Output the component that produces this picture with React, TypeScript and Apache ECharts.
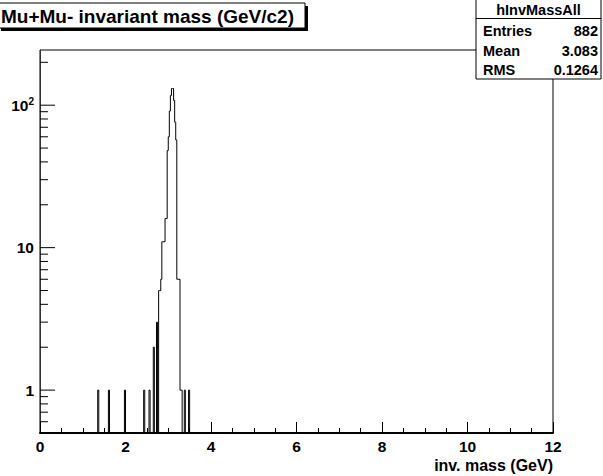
import { useEffect, useRef } from 'react';
import * as echarts from 'echarts';

const TITLE = 'Mu+Mu- invariant mass (GeV/c2)';
const X_TITLE = 'inv. mass (GeV)';
const HIST_NAME = 'hInvMassAll';
const STAT_LABELS = ['Entries', 'Mean', 'RMS'];
const STAT_VALUES = ['882', '3.083', '0.1264'];

const X_MIN = 0;
const X_MAX = 12;
const Y_MIN = 0.5;
const Y_MAX = 244;

const BIN_WIDTH = 0.025;
const BIN_LOW = [
  1.35, 1.6, 1.975, 2.425, 2.55, 2.65, 2.725,
  2.775, 2.8, 2.825, 2.85, 2.875, 2.9, 2.925, 2.95, 2.975, 3.0, 3.025,
  3.05, 3.075, 3.1, 3.125, 3.15, 3.175, 3.2, 3.225, 3.25, 3.275, 3.3,
  3.375, 3.475,
];
const BIN_COUNT = [
  1, 1, 1, 1, 1, 2, 3,
  5, 5, 6, 11, 11, 11, 16, 16, 48, 60, 91,
  117, 131, 131, 108, 76, 57, 6, 6, 6, 1, 1,
  1, 1,
];

const Y_MAJOR_TICKS = [1, 10, 100];
const Y_MINOR_TICKS = [
  0.6, 0.7, 0.8, 0.9,
  2, 3, 4, 5, 6, 7, 8, 9,
  20, 30, 40, 50, 60, 70, 80, 90,
  200,
];

const FONT = "'Liberation Sans', Arial, Helvetica, sans-serif";

export default function App() {
  const ref = useRef<HTMLDivElement>(null);

  useEffect(() => {
    if (!ref.current) return;
    const chart = echarts.init(ref.current, null, { renderer: 'svg' });

    const tickData = [
      ...Y_MAJOR_TICKS.map((v) => [X_MIN, v, 1]),
      ...Y_MINOR_TICKS.map((v) => [X_MIN, v, 0]),
    ];

    const option: any = {
      animation: false,
      backgroundColor: '#ffffff',
      grid: {
        left: 40,
        right: 50,
        top: 50,
        bottom: 43,
        show: true,
        borderColor: '#000',
        borderWidth: 1,
        backgroundColor: 'transparent',
        containLabel: false,
      },
      xAxis: {
        type: 'value',
        min: X_MIN,
        max: X_MAX,
        interval: 2,
        axisLine: { show: true, onZero: false, lineStyle: { color: '#000', width: 2 } },
        axisTick: { show: true, inside: true, length: 11, lineStyle: { color: '#000', width: 1 } },
        minorTick: { show: true, splitNumber: 4, length: 5, lineStyle: { color: '#000', width: 1 } },
        axisLabel: {
          color: '#000',
          fontSize: 15.5,
          fontWeight: 'bold',
          fontFamily: FONT,
          margin: 5,
        },
        splitLine: { show: false },
        minorSplitLine: { show: false },
      },
      yAxis: {
        type: 'log',
        logBase: 10,
        min: Y_MIN,
        max: Y_MAX,
        axisLine: { show: true, lineStyle: { color: '#333', width: 1 } },
        axisTick: { show: false },
        splitLine: { show: false },
        axisLabel: {
          margin: 6,
          color: '#000',
          fontSize: 15.5,
          fontWeight: 'bold',
          fontFamily: FONT,
          formatter: (v: number) => {
            if (Math.abs(v - 1) < 1e-6) return '{b|1}';
            if (Math.abs(v - 10) < 1e-6) return '{b|10}';
            if (Math.abs(v - 100) < 1e-4) return '{b|10}{s|2}';
            return '';
          },
          rich: {
            b: {
              fontSize: 15.5,
              fontWeight: 'bold',
              fontFamily: FONT,
              color: '#000',
              lineHeight: 18,
            },
            s: {
              fontSize: 10,
              fontWeight: 'bold',
              fontFamily: FONT,
              color: '#000',
              lineHeight: 10,
              verticalAlign: 'top',
            },
          },
        },
      },
      series: [
        {
          type: 'custom',
          name: 'yticks',
          coordinateSystem: 'cartesian2d',
          data: tickData,
          silent: true,
          renderItem: (params: any, api: any) => {
            const p = api.coord([api.value(0), api.value(1)]);
            const len = api.value(2) ? 15 : 8;
            return {
              type: 'line',
              shape: { x1: p[0], y1: p[1], x2: p[0] + len, y2: p[1] },
              style: { stroke: '#000', lineWidth: 1 },
            };
          },
        },
        {
          type: 'custom',
          name: HIST_NAME,
          coordinateSystem: 'cartesian2d',
          data: [[3, 1]],
          silent: true,
          renderItem: (params: any, api: any) => {
            if (params.dataIndex !== 0) return null;
            const pts: number[][] = [];
            let prevRight: number | null = null;
            for (let i = 0; i < BIN_LOW.length; i++) {
              const lo = BIN_LOW[i];
              const hi = lo + BIN_WIDTH;
              const c = BIN_COUNT[i];
              if (prevRight === null || Math.abs(prevRight - lo) > 1e-9) {
                if (prevRight !== null) pts.push(api.coord([prevRight, Y_MIN]));
                pts.push(api.coord([lo, Y_MIN]));
              }
              pts.push(api.coord([lo, c]));
              pts.push(api.coord([hi, c]));
              prevRight = hi;
            }
            if (prevRight !== null) pts.push(api.coord([prevRight, Y_MIN]));
            return {
              type: 'polyline',
              shape: { points: pts },
              style: { stroke: '#000', lineWidth: 1, fill: null },
            };
          },
        },
      ],
      graphic: [
        // title box with shadow
        { type: 'rect', shape: { x: 1, y: 6, width: 307, height: 25 }, style: { fill: '#000' }, z: 100 },
        { type: 'rect', shape: { x: -2, y: 3, width: 307, height: 25 }, style: { fill: '#fff', stroke: '#000', lineWidth: 1 }, z: 101 },
        {
          type: 'text', x: 1, y: 16, z: 102,
          style: {
            text: TITLE, fill: '#000', font: `bold 19px ${FONT}`,
            textAlign: 'left', textVerticalAlign: 'middle', verticalAlign: 'middle',
          },
        },
        // stats box
        { type: 'rect', shape: { x: 476, y: -1, width: 125, height: 80 }, style: { fill: '#fff', stroke: '#000', lineWidth: 1 }, z: 101 },
        { type: 'line', shape: { x1: 476, y1: 18.5, x2: 601, y2: 18.5 }, style: { stroke: '#000', lineWidth: 1 }, z: 102 },
        {
          type: 'text', x: 538.5, y: 10, z: 102,
          style: { text: HIST_NAME, fill: '#000', font: `bold 14.5px ${FONT}`, textAlign: 'center', textVerticalAlign: 'middle', verticalAlign: 'middle' },
        },
        ...STAT_LABELS.map((t, i) => ({
          type: 'text', x: 483, y: 31 + i * 19.5, z: 102,
          style: { text: t, fill: '#000', font: `bold 14.5px ${FONT}`, textAlign: 'left', textVerticalAlign: 'middle', verticalAlign: 'middle' },
        })),
        ...STAT_VALUES.map((t, i) => ({
          type: 'text', x: 598, y: 31 + i * 19.5, z: 102,
          style: { text: t, fill: '#000', font: `bold 14.5px ${FONT}`, textAlign: 'right', textVerticalAlign: 'middle', verticalAlign: 'middle' },
        })),
        // x axis title
        {
          type: 'text', x: 553, y: 465, z: 102,
          style: { text: X_TITLE, fill: '#000', font: `bold 16px ${FONT}`, textAlign: 'right', textVerticalAlign: 'middle', verticalAlign: 'middle' },
        },
      ],
    };

    chart.setOption(option);
    return () => {
      chart.dispose();
    };
  }, []);

  return (
    <div
      ref={ref}
      style={{ position: 'fixed', left: 0, top: 0, width: 603, height: 476, background: '#fff' }}
    />
  );
}
